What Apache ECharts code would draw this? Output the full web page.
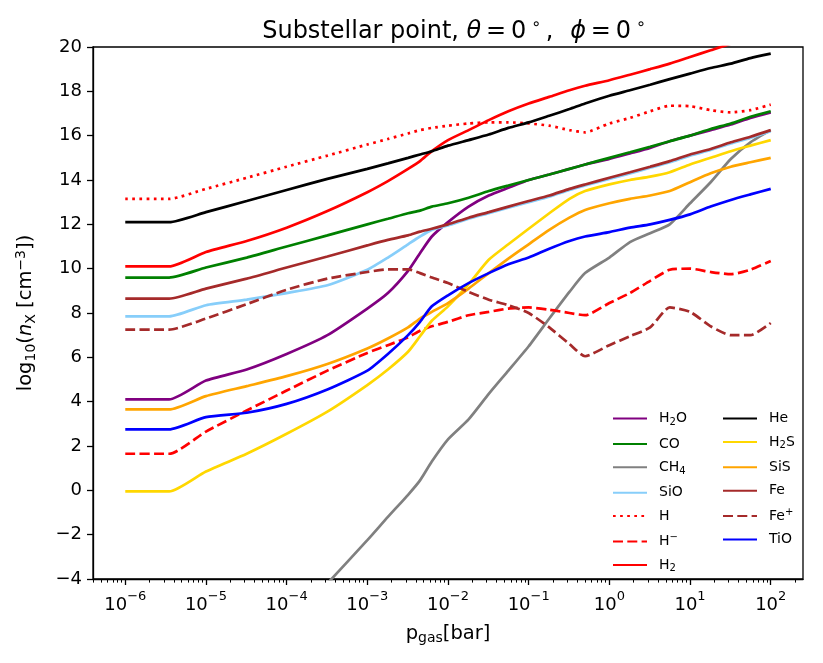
<!DOCTYPE html>
<html>
<head>
<meta charset="utf-8">
<script src="https://cdn.jsdelivr.net/npm/echarts@6/dist/echarts.min.js"></script>
<style>
html, body { margin: 0; padding: 0; background: #fff; }
#chart { width: 823px; height: 663px; }
</style>
</head>
<body>
<div id="chart"></div>
<script>
// pressure grid in bar, shared by all species
var pressure = [1e-6, 3.5e-6, 1e-5, 3.2e-5, 1e-4, 3.2e-4, 1e-3, 1.8e-3, 3.2e-3, 4.5e-3, 6.3e-3,
    1e-2, 1.8e-2, 3.2e-2, 5.6e-2, 0.1, 0.18, 0.32, 0.5, 1, 1.8, 3.2, 5.6, 10, 18, 32, 56, 100];

// log10 number densities
var h2o  = [4.1, 4.1, 4.95, 5.45, 6.15, 7.0, 8.2, 8.9, 9.9, 10.7, 11.45, 12.1, 12.8, 13.3, 13.65, 14.0, 14.25, 14.5, 14.7, 14.95, 15.2, 15.45, 15.75, 16.0, 16.25, 16.5, 16.8, 17.05];
var co   = [9.6, 9.6, 10.05, 10.5, 11.0, 11.5, 12.0, 12.25, 12.5, 12.62, 12.8, 12.95, 13.2, 13.5, 13.75, 14.0, 14.25, 14.5, 14.7, 15.0, 15.25, 15.5, 15.75, 16.0, 16.3, 16.55, 16.85, 17.1];
var ch4  = [null, null, null, null, null, -4.2, -2.25, -1.2, -0.2, 0.45, 1.3, 2.3, 3.2, 4.35, 5.4, 6.5, 7.75, 8.95, 9.8, 10.5, 11.2, 11.6, 12.0, 12.95, 13.9, 14.95, 15.7, 16.25];
var sio  = [7.85, 7.85, 8.35, 8.6, 8.9, 9.25, 9.95, 10.5, 11.1, 11.45, 11.75, 11.95, 12.25, 12.5, 12.75, 13.0, 13.25, 13.55, 13.75, 14.05, 14.3, 14.55, 14.8, 15.1, 15.35, 15.65, 15.9, 16.2];
var hAtom = [13.15, 13.15, 13.6, 14.1, 14.6, 15.1, 15.6, 15.85, 16.1, 16.25, 16.35, 16.45, 16.55, 16.6, 16.6, 16.55, 16.45, 16.25, 16.15, 16.55, 16.8, 17.1, 17.35, 17.33, 17.15, 17.05, 17.15, 17.4];
var hMinus = [1.65, 1.65, 2.65, 3.6, 4.5, 5.4, 6.2, 6.55, 6.9, 7.2, 7.4, 7.6, 7.9, 8.05, 8.2, 8.25, 8.15, 8.0, 7.9, 8.45, 8.9, 9.45, 9.95, 10.0, 9.85, 9.75, 9.95, 10.35];
var h2   = [10.1, 10.1, 10.75, 11.25, 11.85, 12.6, 13.45, 13.95, 14.5, 14.85, 15.3, 15.8, 16.25, 16.7, 17.1, 17.45, 17.75, 18.05, 18.25, 18.5, 18.75, 19.0, 19.25, 19.55, 19.85, 20.15, 20.5, 20.85];
var he   = [12.1, 12.1, 12.55, 13.05, 13.55, 14.05, 14.5, 14.75, 15.0, 15.15, 15.3, 15.55, 15.8, 16.05, 16.35, 16.6, 16.9, 17.2, 17.45, 17.8, 18.05, 18.3, 18.55, 18.8, 19.05, 19.25, 19.5, 19.7];
var h2s  = [-0.05, -0.05, 0.85, 1.65, 2.55, 3.55, 4.75, 5.45, 6.25, 6.95, 7.65, 8.3, 9.3, 10.4, 11.1, 11.8, 12.5, 13.15, 13.5, 13.8, 14.0, 14.15, 14.35, 14.7, 15.0, 15.3, 15.55, 15.8];
var sis  = [3.65, 3.65, 4.25, 4.7, 5.15, 5.7, 6.4, 6.85, 7.35, 7.75, 8.05, 8.45, 9.1, 9.8, 10.45, 11.1, 11.75, 12.3, 12.65, 12.95, 13.15, 13.3, 13.5, 13.9, 14.3, 14.6, 14.8, 15.0];
var fe   = [8.65, 8.65, 9.1, 9.55, 10.05, 10.55, 11.05, 11.3, 11.5, 11.67, 11.8, 12.0, 12.3, 12.55, 12.8, 13.05, 13.3, 13.6, 13.8, 14.1, 14.35, 14.6, 14.85, 15.15, 15.4, 15.7, 15.95, 16.25];
var fePlus = [7.25, 7.25, 7.75, 8.4, 9.05, 9.55, 9.85, 9.97, 9.97, 9.8, 9.6, 9.35, 8.95, 8.6, 8.35, 8.0, 7.35, 6.6, 6.05, 6.55, 6.95, 7.35, 8.25, 8.05, 7.4, 7.0, 7.0, 7.55];
var tio  = [2.75, 2.75, 3.3, 3.5, 3.9, 4.55, 5.4, 6.15, 7.0, 7.6, 8.3, 8.8, 9.35, 9.8, 10.2, 10.5, 10.9, 11.25, 11.45, 11.65, 11.85, 12.0, 12.2, 12.45, 12.8, 13.1, 13.35, 13.6];

var xMajorTicks = [1e-6, 1e-5, 1e-4, 1e-3, 1e-2, 1e-1, 1, 10, 100];

var FONT = 'DejaVu Sans';
var xMin = Math.pow(10, -6.4), xMax = Math.pow(10, 2.4);

var xMinorTicks = [];
for (var n = -7; n <= 2; n++) {
    for (var k = 2; k <= 9; k++) {
        var v = k * Math.pow(10, n);
        if (v > xMin && v < xMax) xMinorTicks.push(v);
    }
}

function pairs(arr) {
    var out = [];
    for (var i = 0; i < pressure.length; i++) {
        if (arr[i] !== null) out.push([pressure[i], arr[i]]);
    }
    return out;
}

var seriesDefs = [
    { name: 'H2O', data: h2o, color: '#800080', type: 'solid' },
    { name: 'CO', data: co, color: '#008000', type: 'solid' },
    { name: 'CH4', data: ch4, color: '#808080', type: 'solid' },
    { name: 'SiO', data: sio, color: '#87CEFA', type: 'solid' },
    { name: 'H', data: hAtom, color: '#FF0000', type: [2.7, 4.4] },
    { name: 'H-', data: hMinus, color: '#FF0000', type: [10, 4.3] },
    { name: 'H2', data: h2, color: '#FF0000', type: 'solid' },
    { name: 'He', data: he, color: '#000000', type: 'solid' },
    { name: 'H2S', data: h2s, color: '#FFD700', type: 'solid' },
    { name: 'SiS', data: sis, color: '#FFA500', type: 'solid' },
    { name: 'Fe', data: fe, color: '#A52A2A', type: 'solid' },
    { name: 'Fe+', data: fePlus, color: '#A52A2A', type: [10, 4.3] },
    { name: 'TiO', data: tio, color: '#0000FF', type: 'solid' }
];

var legendLabels = {
    'H2O': '{n|H}{sub|2}{n|O}',
    'CO': '{n|CO}',
    'CH4': '{n|CH}{sub|4}',
    'SiO': '{n|SiO}',
    'H': '{n|H}',
    'H-': '{n|H}{sup|\u2212}',
    'H2': '{n|H}{sub|2}',
    'He': '{n|He}',
    'H2S': '{n|H}{sub|2}{n|S}',
    'SiS': '{n|SiS}',
    'Fe': '{n|Fe}',
    'Fe+': '{n|Fe}{sup|+}',
    'TiO': '{n|TiO}'
};

var legendRich = {
    n: { fontFamily: FONT, fontSize: 14, lineHeight: 18, verticalAlign: 'middle', color: '#000' },
    sub: { fontFamily: FONT, fontSize: 10, lineHeight: 10, verticalAlign: 'bottom', color: '#000' },
    sup: { fontFamily: FONT, fontSize: 10, lineHeight: 10, verticalAlign: 'top', color: '#000' }
};

function legendBox(names, left) {
    return {
        orient: 'vertical',
        left: left,
        top: 411.5,
        itemWidth: 34,
        itemHeight: 14,
        itemGap: 9.4,
        padding: 0,
        data: names,
        itemStyle: { opacity: 0 },
        formatter: function (name) { return legendLabels[name]; },
        textStyle: { padding: [0, 0, 0, 7], rich: legendRich }
    };
}

var chart = echarts.init(document.getElementById('chart'));
chart.setOption({
    backgroundColor: '#fff',
    animation: false,
    title: {
        text: '{t|Substellar point, }{i|\u03b8}{t|\u2009=\u20090\u2009}{sup|\u2218}{t|\u2009,\u2002\u2009}{i|\u03d5}{t|\u2009=\u20090\u2009}{sup|\u2218}',
        left: 449,
        textAlign: 'center',
        top: 12,
        textStyle: {
            fontWeight: 'normal',
            rich: {
                t: { fontFamily: FONT, fontSize: 24, fontWeight: 'normal', color: '#000', lineHeight: 29 },
                i: { fontFamily: FONT, fontSize: 24, fontWeight: 'normal', fontStyle: 'italic', color: '#000', lineHeight: 29 },
                sup: { fontFamily: FONT, fontSize: 16, fontWeight: 'normal', color: '#000', lineHeight: 17, verticalAlign: 'top' }
            }
        }
    },
    legend: [
        legendBox(['H2O', 'CO', 'CH4', 'SiO', 'H', 'H-', 'H2'], 612),
        legendBox(['He', 'H2S', 'SiS', 'Fe', 'Fe+', 'TiO'], 722)
    ],
    grid: {
        left: 93, right: 20, top: 47, bottom: 84,
        show: true, borderColor: '#000', borderWidth: 1.3, backgroundColor: '#fff'
    },
    xAxis: [{
        type: 'log',
        logBase: 10,
        min: xMin,
        max: xMax,
        name: '{n|p}{sub|gas}{n|[bar]}',
        nameLocation: 'middle',
        nameGap: 44,
        nameTextStyle: {
            rich: {
                n: { fontFamily: FONT, fontSize: 19.5, color: '#000', lineHeight: 22, verticalAlign: 'middle' },
                sub: { fontFamily: FONT, fontSize: 14, color: '#000', lineHeight: 13, verticalAlign: 'bottom' }
            }
        },
        axisLine: { show: true, onZero: false, lineStyle: { color: '#000', width: 1.3 } },
        splitLine: { show: false },
        axisTick: { show: true, inside: false, length: 6, lineStyle: { color: '#000', width: 1.3 }, customValues: xMajorTicks },
        axisLabel: {
            customValues: xMajorTicks,
            margin: 11,
            formatter: function (val) {
                var e = Math.round(Math.log10(val));
                return '{b|10}{s|' + String(e).replace('-', '\u2212') + '}';
            },
            rich: {
                b: { fontFamily: FONT, fontSize: 18, color: '#000', lineHeight: 24, verticalAlign: 'bottom' },
                s: { fontFamily: FONT, fontSize: 13, color: '#000', lineHeight: 13, verticalAlign: 'top' }
            }
        }
    }, {
        type: 'log',
        logBase: 10,
        min: xMin,
        max: xMax,
        position: 'bottom',
        axisLine: { show: false, onZero: false },
        splitLine: { show: false },
        axisLabel: { show: false },
        axisTick: { show: true, inside: false, length: 3.6, lineStyle: { color: '#000', width: 1 }, customValues: xMinorTicks }
    }],
    yAxis: {
        type: 'value',
        min: -4,
        max: 20,
        interval: 2,
        name: '{n|log}{sub|10}{n|(}{i|n}{sub|X}{n| [cm}{sup|\u22123}{n|])}',
        nameLocation: 'middle',
        nameRotate: 90,
        nameGap: 55,
        nameTextStyle: {
            rich: {
                n: { fontFamily: FONT, fontSize: 19.5, color: '#000', lineHeight: 24, verticalAlign: 'middle' },
                i: { fontFamily: FONT, fontSize: 19.5, fontStyle: 'italic', color: '#000', lineHeight: 24, verticalAlign: 'middle' },
                sub: { fontFamily: FONT, fontSize: 14, color: '#000', lineHeight: 13, verticalAlign: 'bottom' },
                sup: { fontFamily: FONT, fontSize: 14, color: '#000', lineHeight: 13, verticalAlign: 'top' }
            }
        },
        axisLine: { show: true, onZero: false, lineStyle: { color: '#000', width: 1.3 } },
        splitLine: { show: false },
        axisTick: { show: true, inside: false, length: 6, lineStyle: { color: '#000', width: 1.3 } },
        axisLabel: {
            margin: 11,
            fontFamily: FONT,
            fontSize: 18,
            color: '#000',
            formatter: function (val) { return String(val).replace('-', '\u2212'); }
        }
    },
    series: seriesDefs.map(function (s) {
        return {
            name: s.name,
            type: 'line',
            xAxisIndex: 0,
            data: pairs(s.data),
            symbol: 'none',
            showSymbol: false,
            smooth: 0.2,
            clip: true,
            color: s.color,
            lineStyle: { color: s.color, width: 2.7, type: s.type, cap: 'butt' }
        };
    })
});
</script>
</body>
</html>
